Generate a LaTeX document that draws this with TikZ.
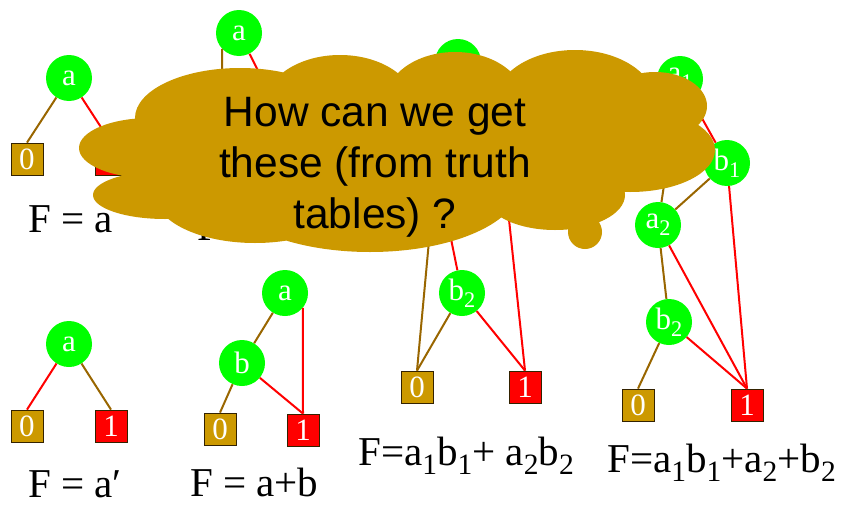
\documentclass[tikz,border=0pt]{standalone}
\usepackage{fontspec}
\usepackage{graphicx}
\setmainfont{Liberation Serif}
\newfontfamily\cloudfont{Liberation Sans}
\newcommand{\subidx}[1]{\raisebox{-0.23em}{\scalebox{0.72}{#1}}}
\definecolor{vgreen}{RGB}{0,255,0}
\definecolor{gold}{RGB}{204,153,0}
\definecolor{lobrown}{RGB}{153,102,0}
\definecolor{hired}{RGB}{255,0,0}
\definecolor{boxedge}{RGB}{51,34,0}
\begin{document}
\begin{tikzpicture}[x=1pt,y=-1pt,
 var/.style={circle,fill=vgreen,minimum size=46pt,inner sep=0pt,text=white,font=\fontsize{31}{31}\selectfont},
 zerobox/.style={rectangle,fill=gold,draw=boxedge,line width=0.8pt,minimum size=32pt,inner sep=0pt,text=white,font=\fontsize{31}{31}\selectfont},
 onebox/.style={zerobox,fill=hired},
 lo/.style={draw=lobrown,line width=2pt},
 hi/.style={draw=hired,line width=2pt},
 formula/.style={anchor=base west,inner sep=0pt,font=\fontsize{41}{45}\selectfont},
 cloudtext/.style={align=center,inner sep=0pt,font=\cloudfont\fontsize{42.5}{51}\selectfont},
 ]
\useasboundingbox (0,0) rectangle (845,506);
% ---------- tree 1 : F = a
\node[var] (t1a) at (69,78) {a};
\node[zerobox] (t1z) at (27,159) {0};
\node[onebox] (t1o) at (111,159) {};
\draw[lo] (t1a) -- (t1z.north);
\draw[hi] (t1a) -- (t1o.north);
\node[formula] (t1f) at (28,232) {F = a};
% ---------- tree 2 (hidden behind the cloud)
\node[var] (t2a) at (239,33) {a};
\node[var] (t2b) at (282,118) {};
\node[zerobox] (t2z) at (222,168) {};
\node[onebox] (t2o) at (300,168) {};
\draw[lo] (t2a.-137) -- (t2z.north);
\draw[hi] (t2a) -- (t2b);
\draw[lo] (t2b) -- (t2z.north);
\draw[hi] (t2b) -- (t2o.north);
\node[formula] (t2f) at (197,240) {F};
% ---------- tree 3 : F = a1b1 + a2b2
\node[var] (t3a1) at (458,62) {};
\node[var] (t3b1) at (499,125) {};
\node[var] (t3a2) at (436,165) {};
\node[var] (t3b2) at (462,293) {b\subidx{2}};
\node[zerobox] (t3z) at (417,387) {0};
\node[onebox] (t3o) at (525,387) {1};
\draw[lo] (t3a1) -- (t3a2);
\draw[hi] (t3a1) -- (t3b1);
\draw[lo] (t3b1) -- (t3a2);
\draw[hi] (t3b1) -- (t3o.north);
\draw[lo] (t3a2) -- (t3z.north);
\draw[hi] (t3a2) -- (t3b2);
\draw[lo] (t3b2) -- (t3z.north);
\draw[hi] (t3b2) -- (t3o.north);
\node[formula] (t3f) at (358,465) {F=a\subidx{1}b\subidx{1}+ a\subidx{2}b\subidx{2}};
% ---------- tree 4 : F = a1b1 + a2 + b2
\node[var] (t4a1) at (680,79) {a\subidx{1}};
\node[var] (t4b1) at (727,163) {b\subidx{1}};
\node[var] (t4a2) at (658,225) {a\subidx{2}};
\node[var] (t4b2) at (669,322) {b\subidx{2}};
\node[zerobox] (t4z) at (638,405) {0};
\node[onebox] (t4o) at (747,405) {1};
\draw[lo] (t4a1) -- (t4a2);
\draw[hi] (t4a1) -- (t4b1);
\draw[lo] (t4b1) -- (t4a2);
\draw[hi] (t4b1) -- (t4o.north);
\draw[lo] (t4a2) -- (t4b2);
\draw[hi] (t4a2) -- (t4o.north);
\draw[lo] (t4b2) -- (t4z.north);
\draw[hi] (t4b2) -- (t4o.north);
\node[formula] (t4f) at (607,472) {F=a\subidx{1}b\subidx{1}+a\subidx{2}+b\subidx{2}};
% ---------- tree 5 : F = a'
\node[var] (t5a) at (69,344) {a};
\node[zerobox] (t5z) at (27,426) {0};
\node[onebox] (t5o) at (111,426) {1};
\draw[hi] (t5a) -- (t5z.north);
\draw[lo] (t5a) -- (t5o.north);
\node[formula] (t5f) at (28,497) {F = a′};
% ---------- tree 6 : F = a+b
\node[var] (t6a) at (285,293) {a};
\node[var] (t6b) at (242,363) {b};
\node[zerobox] (t6z) at (220,429) {0};
\node[onebox] (t6o) at (303,430) {1};
\draw[lo] (t6a) -- (t6b);
\draw[hi] (t6a.-40) -- (t6o.north);
\draw[lo] (t6b) -- (t6z.north);
\draw[hi] (t6b) -- (t6o.north);
\node[formula] (t6f) at (190,496) {F = a+b};
% ---------- thought cloud
\fill[gold]
  (150,148) ellipse [x radius=71pt, y radius=30pt]
  (165,195) ellipse [x radius=72pt, y radius=24pt]
  (240,118) ellipse [x radius=105pt, y radius=50pt]
  (340,105) ellipse [x radius=75pt, y radius=50pt]
  (455,102) ellipse [x radius=70pt, y radius=50pt]
  (575,102) ellipse [x radius=80pt, y radius=52pt]
  (655,106) ellipse [x radius=52pt, y radius=34pt]
  (630,150) ellipse [x radius=85pt, y radius=42pt]
  (555,195) ellipse [x radius=70pt, y radius=35pt]
  (370,185) ellipse [x radius=150pt, y radius=67pt]
  (255,195) ellipse [x radius=100pt, y radius=48pt]
  (400,150) ellipse [x radius=250pt, y radius=70pt]
  (585,232) circle [radius=17pt];
\node[cloudtext] (q) at (375,167) {How can we get\\these (from truth\\tables) ?};
\end{tikzpicture}
\end{document}
